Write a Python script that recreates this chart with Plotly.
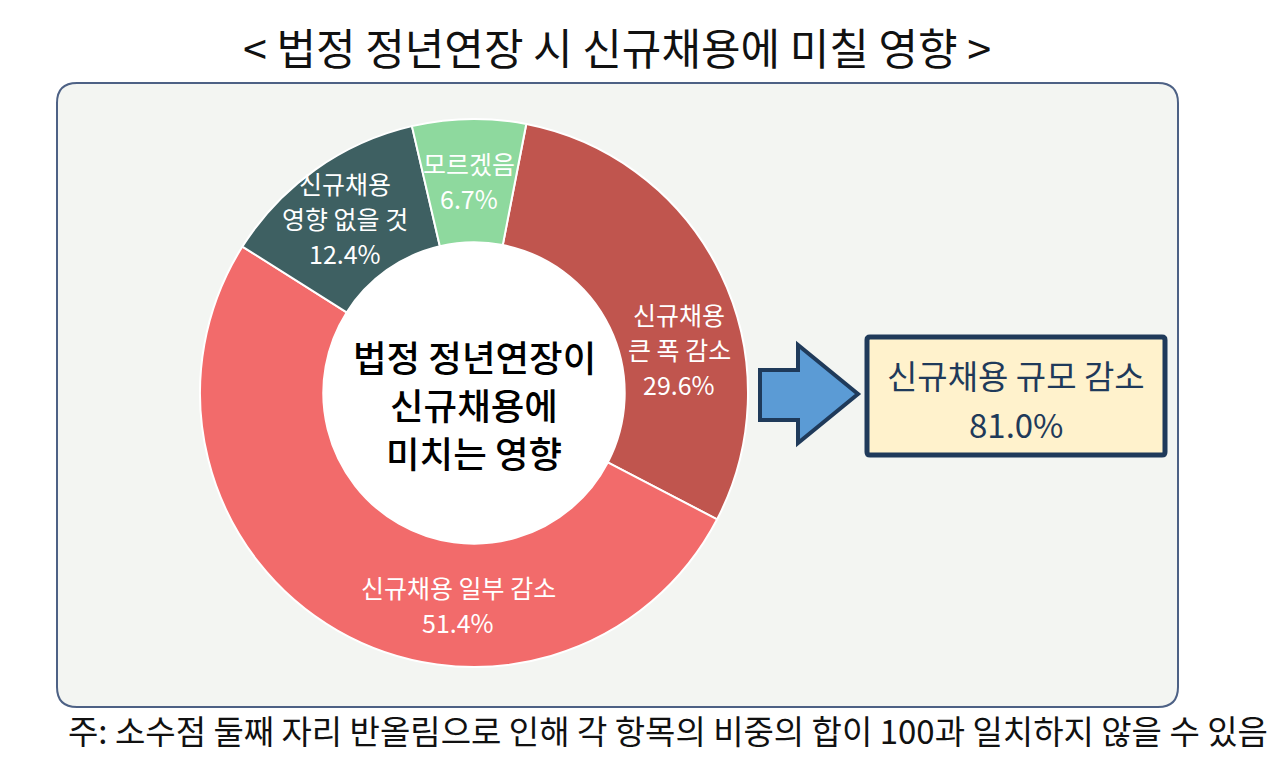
import plotly.graph_objects as go

# ---- data ----
categories = ["신규채용|큰 폭 감소", "신규채용 일부 감소", "신규채용|영향 없을 것", "모르겠음"]
values = [29.6, 51.4, 12.4, 6.7]
summary_label = "신규채용 규모 감소"
summary_parts = [0, 1]  # slices summed in the summary box
title_text = "< 법정 정년연장 시 신규채용에 미칠 영향 >"
center_lines = ["법정 정년연장이", "신규채용에", "미치는 영향"]
note_text = "주: 소수점 둘째 자리 반올림으로 인해 각 항목의 비중의 합이 100과 일치하지 않을 수 있음"

# ---- style ----
colors = ["#C0554E", "#F26B6B", "#3E6062", "#8ED99E"]
W, H = 1280, 766
cx, cy, R = 474, 393, 274
HOLE = 0.55
label_centers = [(679, 349), (458, 604), (345, 218), (469, 180)]
label_spacing = 35
FONT = "Noto Sans CJK KR"

def px_x(x):
    return x / W

def px_y(y):
    return 1 - y / H

fig = go.Figure()

fig.add_trace(go.Pie(
    labels=[c.replace("|", " ") for c in categories],
    values=values,
    sort=False,
    direction="clockwise",
    rotation=11,
    hole=HOLE,
    marker=dict(colors=colors, line=dict(color="white", width=2)),
    textinfo="none",
    hoverinfo="label+percent",
    showlegend=False,
    domain=dict(x=[px_x(cx - R), px_x(cx + R)], y=[px_y(cy + R), px_y(cy - R)]),
))

shapes = []

def rounded_rect(x0, y0, x1, y1, r):
    return (f"M{x0+r},{y0} L{x1-r},{y0} Q{x1},{y0} {x1},{y0+r} "
            f"L{x1},{y1-r} Q{x1},{y1} {x1-r},{y1} L{x0+r},{y1} "
            f"Q{x0},{y1} {x0},{y1-r} L{x0},{y0+r} Q{x0},{y0} {x0+r},{y0} Z")

# panel
shapes.append(dict(type="path", xref="x", yref="y", layer="below",
                   path=rounded_rect(57, 83, 1178, 707, 20),
                   fillcolor="#F3F5F2", line=dict(color="#4D6185", width=2)))
# white disc inside the donut hole
rh = R * HOLE + 2
shapes.append(dict(type="circle", xref="x", yref="y", layer="below",
                   x0=cx - rh, x1=cx + rh, y0=cy - rh, y1=cy + rh,
                   fillcolor="white", line=dict(width=0)))
# arrow
shapes.append(dict(type="path", xref="x", yref="y",
                   path="M760,370 L798,370 L798,345 L858,394 L798,443 L798,420 L760,420 Z",
                   fillcolor="#5B9BD5", line=dict(color="#1F3A5A", width=4)))
# summary box
shapes.append(dict(type="path", xref="x", yref="y",
                   path=rounded_rect(867, 337, 1165, 455, 3),
                   fillcolor="#FFF2CC", line=dict(color="#1F3A5A", width=5)))

annotations = []

def add_text(x, y, text, size, color, weight=400, xanchor="center"):
    annotations.append(dict(x=x, y=y, xref="x", yref="y", text=text, showarrow=False,
                            xanchor=xanchor, yanchor="middle",
                            font=dict(family=FONT, size=size, color=color, weight=weight)))

# title and note
add_text(617, 46, title_text, 43, "#111111")
add_text(668, 730, note_text, 33, "#111111")

# center text
for i, line in enumerate(center_lines):
    add_text(474, 356 + i * 48, line, 36.5, "#000000", weight=500)

# slice labels
for cat, val, (lx, ly) in zip(categories, values, label_centers):
    lines = cat.split("|") + [f"{val:.1f}%"]
    n = len(lines)
    for i, line in enumerate(lines):
        add_text(lx, ly + (i - (n - 1) / 2) * label_spacing, line, 25, "white")

# summary box text
summary_value = round(sum(values[i] for i in summary_parts), 1)
add_text(1016, 375, summary_label, 33, "#1F3A5A")
add_text(1016, 424, f"{summary_value:.1f}%", 33, "#1F3A5A")

fig.update_layout(
    width=W, height=H,
    margin=dict(l=0, r=0, t=0, b=0),
    paper_bgcolor="white", plot_bgcolor="rgba(0,0,0,0)",
    xaxis=dict(range=[0, W], visible=False, fixedrange=True),
    yaxis=dict(range=[H, 0], visible=False, fixedrange=True),
    shapes=shapes,
    annotations=annotations,
    font=dict(family=FONT),
)

fig.write_html("out.html", config={"displayModeBar": False},
               post_script="document.body.style.margin='0';")
